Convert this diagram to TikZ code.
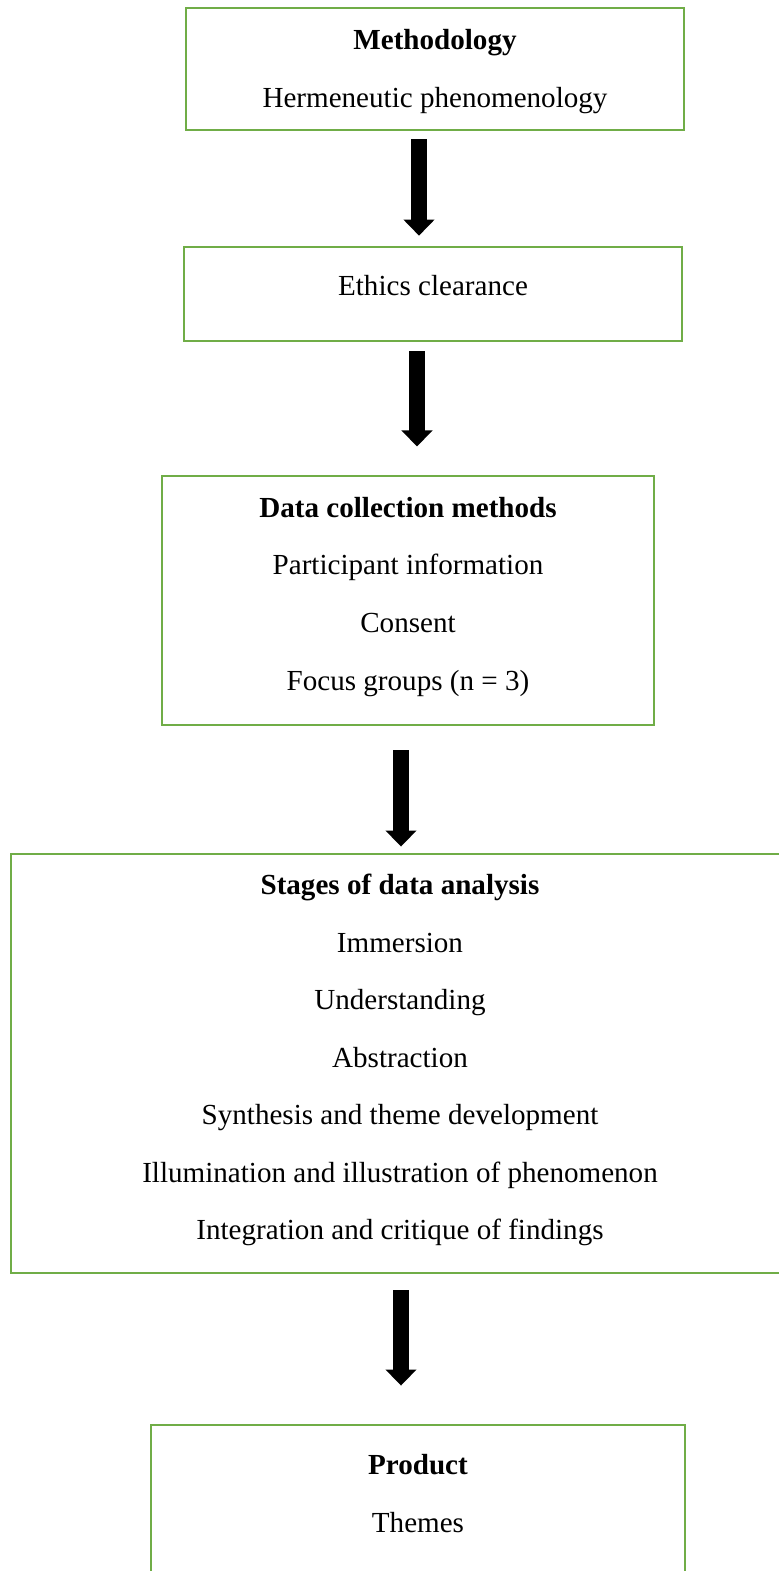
\documentclass[tikz,border=0pt]{standalone}
\usepackage{fontspec}
\setmainfont{Liberation Serif}
\usepackage{tikz}
\usetikzlibrary{positioning, arrows.meta, fit}
\usepackage{xcolor}
\definecolor{boxgreen}{HTML}{70AD47}

\tikzset{
    frame/.style={draw=boxgreen, line width=1.15pt, inner sep=0pt},
    txt/.style={anchor=base, inner sep=0pt, font=\fontsize{12}{14}\selectfont},
    fatarrow/.style={line width=6.2pt, -{Triangle[width=12.4pt, length=6.6pt]}}
}

\begin{document}
\begin{tikzpicture}[x=0.4125pt, y=-0.4125pt]
    \clip (0,0) rectangle (779,1571);

    % Methodology
    \node[frame, fit={(186,8) (684,130)}] (method) {};
    \node[txt] (methodA) at (435,49) {\textbf{Methodology}};
    \node[txt] (methodB) at (435,107) {Hermeneutic phenomenology};

    % Ethics
    \node[frame, fit={(184,247) (682,341)}] (ethics) {};
    \node[txt] (ethicsA) at (433,295) {Ethics clearance};

    % Data collection
    \node[frame, fit={(162,476) (654,725)}] (collect) {};
    \node[txt] (collectA) at (408,517) {\textbf{Data collection methods}};
    \node[txt] (collectB) at (408,574) {Participant information};
    \node[txt] (collectC) at (408,632) {Consent};
    \node[txt] (collectD) at (408,690) {Focus groups (n = 3)};

    % Analysis
    \node[frame, fit={(11,854) (790,1273)}] (stages) {};
    \node[txt] (stagesA) at (400,894) {\textbf{Stages of data analysis}};
    \foreach \name/\y/\t in {B/952/Immersion, C/1009/Understanding, D/1067/Abstraction,
        E/1124/Synthesis and theme development,
        F/1182/Illumination and illustration of phenomenon,
        G/1239/Integration and critique of findings}
        \node[txt] (stages\name) at (400,\y) {\t};

    % Product
    \node[frame, fit={(151,1425) (685,1600)}] (product) {};
    \node[txt] (productA) at (418,1474) {\textbf{Product}};
    \node[txt] (productB) at (418,1532) {Themes};

    % Arrows
    \coordinate (ax1) at (419,0);
    \coordinate (ax2) at (417,0);
    \coordinate (ax3) at (401,0);
    \draw[fatarrow, shorten <=3.3pt, shorten >=4.1pt] (method.south -| ax1) -- (ethics.north -| ax1);
    \draw[fatarrow, shorten <=3.7pt, shorten >=11.6pt] (ethics.south -| ax2) -- (collect.north -| ax2);
    \draw[fatarrow, shorten <=9.9pt, shorten >=2.5pt] (collect.south -| ax3) -- (stages.north -| ax3);
    \draw[fatarrow, shorten <=6.6pt, shorten >=15.7pt] (stages.south -| ax3) -- (product.north -| ax3);
\end{tikzpicture}
\end{document}
